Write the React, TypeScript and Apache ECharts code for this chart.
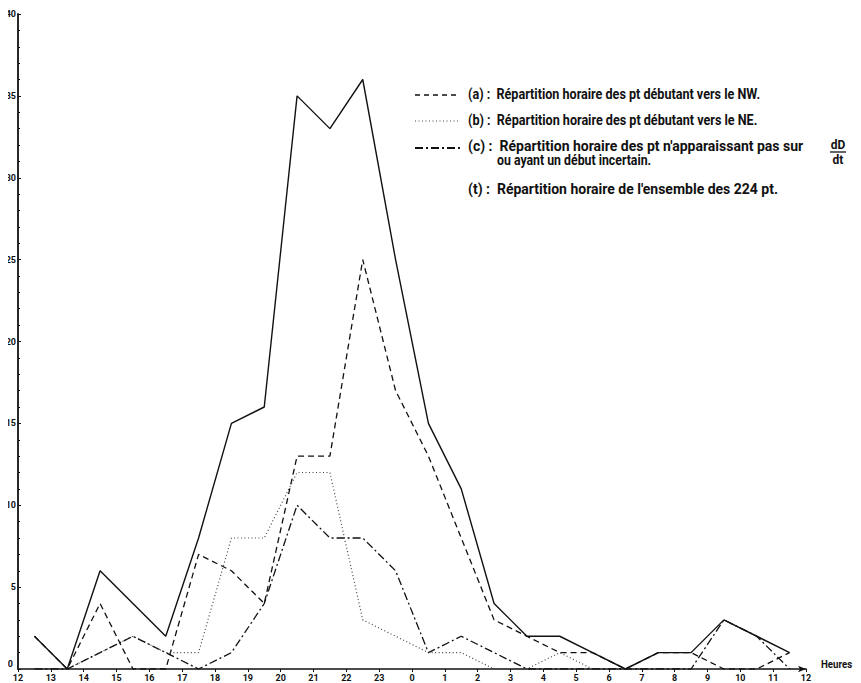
import React, { useEffect, useRef } from "react";
import * as echarts from "echarts";

// Centre of each hourly bin, in hours counted from 12 h (12-13 h -> 0.5 ... 11-12 h -> 23.5)
const binMid = [
  0.5, 1.5, 2.5, 3.5, 4.5, 5.5, 6.5, 7.5, 8.5, 9.5, 10.5, 11.5,
  12.5, 13.5, 14.5, 15.5, 16.5, 17.5, 18.5, 19.5, 20.5, 21.5, 22.5, 23.5,
];

// Hour labels on the time axis, 12 h to 12 h the next day
const hourLabels = [
  "12", "13", "14", "15", "16", "17", "18", "19", "20", "21", "22", "23",
  "0", "1", "2", "3", "4", "5", "6", "7", "8", "9", "10", "11", "12",
];

// (a) pt beginning towards the NW
const countNW = [2, 0, 4, 0, 0, 7, 6, 4, 13, 13, 25, 17, 13, 8, 3, 2, 1, 1, 0, 1, 1, 0, 0, 1];
// (b) pt beginning towards the NE
const countNE = [0, 0, 1, 2, 1, 1, 8, 8, 12, 12, 3, 2, 1, 1, 0, 0, 1, 0, 0, 0, 0, 0, 0, 0];
// (c) pt not visible on dD/dt or with an uncertain start
const countUncertain = [0, 0, 1, 2, 1, 0, 1, 4, 10, 8, 8, 6, 1, 2, 1, 0, 0, 0, 0, 0, 0, 3, 2, 0];
// (t) all 224 pt
const countTotal = [2, 0, 6, 4, 2, 8, 15, 16, 35, 33, 36, 25, 15, 11, 4, 2, 2, 1, 0, 1, 1, 3, 2, 1];

const legendTexts = [
  "(a) :  Répartition horaire des pt débutant vers le NW.",
  "(b) :  Répartition horaire des pt débutant vers le NE.",
  "(c) :  Répartition horaire des pt n'apparaissant pas sur",
  "ou ayant un début incertain.",
  "(t) :  Répartition horaire de l'ensemble des 224 pt.",
];

const INK = "#111";
const FONT = "Roboto, 'DejaVu Sans', sans-serif";

const pairs = (vals: number[]) => vals.map((v, i) => [binMid[i], v]);

export default function App() {
  const ref = useRef<HTMLDivElement>(null);

  useEffect(() => {
    if (!ref.current) return;
    const chart = echarts.init(ref.current, undefined, { renderer: "svg" });

    const lineSeries = (name: string, data: number[], dash: any, color: string, width: number) => ({
      name,
      type: "line",
      data: pairs(data),
      showSymbol: false,
      symbol: "none",
      lineStyle: { color, width, type: dash },
      z: 3,
    });

    // condensed, typewriter-set legend lines
    const legendText = (text: string, x: number, y: number, sx: number) => ({
      type: "text",
      x,
      y,
      scaleX: sx,
      style: {
        text,
        fill: INK,
        font: `bold 14px ${FONT}`,
        textVerticalAlign: "middle",
      },
    });

    const sample = (y: number, dash: any, color: string, width: number) => ({
      type: "line",
      shape: { x1: 415, y1: y, x2: 460, y2: y },
      style: { stroke: color, lineWidth: width, lineDash: dash },
    });

    chart.setOption({
      animation: false,
      backgroundColor: "#fff",
      grid: { left: 18, right: 55, top: 14, bottom: 14, containLabel: false },
      xAxis: {
        type: "value",
        min: 0,
        max: 24,
        interval: 1,
        axisLine: { lineStyle: { color: INK, width: 1.5 }, symbol: ["none", "arrow"], symbolSize: [5, 8] },
        axisTick: { show: true, length: 3, lineStyle: { color: INK } },
        axisLabel: {
          formatter: (v: number) => hourLabels[v] ?? "",
          margin: 4,
          fontSize: 9,
          fontWeight: "bold",
          fontFamily: FONT,
          color: INK,
        },
        splitLine: { show: false },
      },
      yAxis: {
        type: "value",
        min: 0,
        max: 40,
        interval: 5,
        axisLine: { show: true, lineStyle: { color: INK, width: 1.8 } },
        axisTick: { show: true, inside: true, length: 3, lineStyle: { color: INK } },
        minorTick: { show: true, splitNumber: 5, length: 2, lineStyle: { color: INK } },
        axisLabel: {
          showMinLabel: false,
          margin: 2,
          fontSize: 9,
          fontWeight: "bold",
          fontFamily: FONT,
          color: INK,
        },
        splitLine: { show: false },
      },
      series: [
        lineSeries("(a)", countNW, [6, 4], INK, 1.3),
        lineSeries("(b)", countNE, [1, 2.5], "#444", 1.2),
        lineSeries("(c)", countUncertain, [8, 3, 2, 3], INK, 1.3),
        lineSeries("(t)", countTotal, "solid", INK, 1.4),
      ],
      graphic: [
        sample(95, [5, 4], INK, 1.3),
        sample(121, [1, 2.5], "#444", 1.2),
        sample(148, [8, 3, 2, 3], INK, 1.8),
        legendText(legendTexts[0], 468, 94, 0.9),
        legendText(legendTexts[1], 468, 120, 0.9),
        legendText(legendTexts[2], 468, 146, 1.0),
        legendText(legendTexts[3], 497, 160, 0.88),
        legendText(legendTexts[4], 468, 189, 1.0),
        {
          type: "text",
          x: 838,
          y: 145,
          style: { text: "dD", fill: INK, font: `bold 12px ${FONT}`, textAlign: "center", textVerticalAlign: "middle" },
        },
        { type: "line", shape: { x1: 830, y1: 152, x2: 846, y2: 152 }, style: { stroke: INK, lineWidth: 1.3 } },
        {
          type: "text",
          x: 838,
          y: 160,
          style: { text: "dt", fill: INK, font: `bold 12px ${FONT}`, textAlign: "center", textVerticalAlign: "middle" },
        },
        // zero of the count axis, lifted above the first hour label
        {
          type: "text",
          x: 13,
          y: 664,
          style: { text: "0", fill: INK, font: `bold 9px ${FONT}`, textAlign: "right", textVerticalAlign: "middle" },
        },
        {
          type: "text",
          x: 821,
          y: 664,
          scaleX: 0.88,
          style: { text: "Heures", fill: INK, font: `bold 11px ${FONT}`, textVerticalAlign: "middle" },
        },
      ],
    });

    return () => chart.dispose();
  }, []);

  return <div ref={ref} style={{ width: 861, height: 683, marginLeft: -8, marginTop: -8 }} />;
}
